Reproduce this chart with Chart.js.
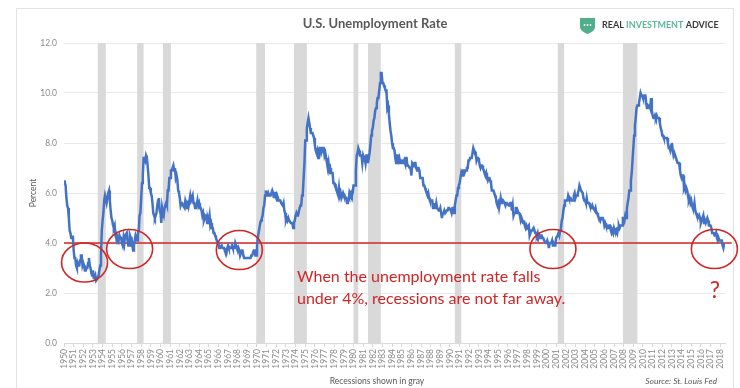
<!DOCTYPE html>
<html>
<head>
<meta charset="utf-8">
<script src="https://cdn.jsdelivr.net/npm/chart.js@4.4.1/dist/chart.umd.min.js"></script>
<style>
  html, body { margin: 0; padding: 0; background: #fff; }
  #wrap { width: 740px; height: 388px; position: relative; }
</style>
</head>
<body>
<div id="wrap"><canvas id="chart" width="740" height="388"></canvas></div>
<script>
// monthly unemployment rate, Jan 1950 onwards (percent)
const rate1950s = [
  6.5, 6.4, 6.3, 5.8, 5.5, 5.4, 5.0, 4.5, 4.4, 4.2, 4.2, 4.3,
  3.7, 3.4, 3.4, 3.1, 3.0, 3.2, 3.1, 3.1, 3.3, 3.5, 3.5, 3.1,
  3.2, 3.1, 2.9, 2.9, 3.0, 3.0, 3.2, 3.4, 3.1, 3.0, 2.8, 2.7,
  2.9, 2.6, 2.6, 2.7, 2.5, 2.5, 2.6, 2.7, 2.9, 3.1, 3.5, 4.5,
  4.9, 5.2, 5.7, 5.9, 5.9, 5.6, 5.8, 6.0, 6.1, 5.7, 5.3, 5.0,
  4.9, 4.7, 4.6, 4.7, 4.3, 4.2, 4.0, 4.2, 4.1, 4.3, 4.2, 4.2,
  4.0, 3.9, 4.2, 4.0, 4.3, 4.3, 4.4, 4.1, 3.9, 3.9, 4.3, 4.2,
  4.2, 3.9, 3.7, 3.9, 4.1, 4.3, 4.2, 4.1, 4.4, 4.5, 5.1, 5.2,
  5.8, 6.4, 6.7, 7.4, 7.4, 7.3, 7.5, 7.4, 7.1, 6.7, 6.2, 6.2,
  6.0, 5.9, 5.6, 5.2, 5.1, 5.0, 5.1, 5.2, 5.5, 5.7, 5.8, 5.3
];
const rate1960s = [
  5.2, 4.8, 5.4, 5.2, 5.1, 5.4, 5.5, 5.6, 5.5, 6.1, 6.1, 6.6,
  6.6, 6.9, 6.9, 7.0, 7.1, 6.9, 7.0, 6.6, 6.7, 6.5, 6.1, 6.0,
  5.8, 5.5, 5.6, 5.6, 5.5, 5.5, 5.4, 5.7, 5.6, 5.4, 5.7, 5.5,
  5.7, 5.9, 5.7, 5.7, 5.9, 5.6, 5.6, 5.4, 5.5, 5.5, 5.7, 5.5,
  5.6, 5.4, 5.4, 5.3, 5.1, 5.2, 4.9, 5.0, 5.1, 5.1, 4.8, 5.0,
  4.9, 5.1, 4.7, 4.8, 4.6, 4.6, 4.4, 4.4, 4.3, 4.2, 4.1, 4.0,
  4.0, 3.8, 3.8, 3.8, 3.9, 3.8, 3.8, 3.8, 3.7, 3.7, 3.6, 3.8,
  3.9, 3.8, 3.8, 3.8, 3.8, 3.9, 3.8, 3.8, 3.8, 4.0, 3.9, 3.8,
  3.7, 3.8, 3.7, 3.5, 3.5, 3.7, 3.7, 3.5, 3.4, 3.4, 3.4, 3.4,
  3.4, 3.4, 3.4, 3.4, 3.4, 3.5, 3.5, 3.5, 3.7, 3.7, 3.5, 3.5
];
const rate1970s = [
  3.9, 4.2, 4.4, 4.6, 4.8, 4.9, 5.0, 5.1, 5.4, 5.5, 5.9, 6.1,
  5.9, 5.9, 6.0, 5.9, 5.9, 5.9, 6.0, 6.1, 6.0, 5.8, 6.0, 6.0,
  5.8, 5.7, 5.8, 5.7, 5.7, 5.7, 5.6, 5.6, 5.5, 5.6, 5.3, 5.2,
  4.9, 5.0, 4.9, 5.0, 4.9, 4.9, 4.8, 4.8, 4.8, 4.6, 4.8, 4.9,
  5.1, 5.2, 5.1, 5.1, 5.1, 5.4, 5.5, 5.5, 5.9, 6.0, 6.6, 7.2,
  8.1, 8.1, 8.6, 8.8, 9.0, 8.8, 8.6, 8.4, 8.4, 8.4, 8.3, 8.2,
  7.9, 7.7, 7.6, 7.7, 7.4, 7.6, 7.8, 7.8, 7.6, 7.7, 7.8, 7.8,
  7.5, 7.6, 7.4, 7.2, 7.0, 7.2, 6.9, 7.0, 6.8, 6.8, 6.8, 6.4,
  6.4, 6.3, 6.3, 6.1, 6.0, 5.9, 6.2, 5.9, 6.0, 5.8, 5.9, 6.0,
  5.9, 5.9, 5.8, 5.8, 5.6, 5.7, 5.7, 6.0, 5.9, 6.0, 5.9, 6.0
];
const rate1980s = [
  6.3, 6.3, 6.3, 6.9, 7.5, 7.6, 7.8, 7.7, 7.5, 7.5, 7.5, 7.2,
  7.5, 7.4, 7.4, 7.2, 7.5, 7.5, 7.2, 7.4, 7.6, 7.9, 8.3, 8.5,
  8.6, 8.9, 9.0, 9.3, 9.4, 9.6, 9.8, 9.8, 10.1, 10.4, 10.8, 10.8,
  10.4, 10.4, 10.3, 10.2, 10.1, 10.1, 9.4, 9.5, 9.2, 8.8, 8.5, 8.3,
  8.0, 7.8, 7.8, 7.7, 7.4, 7.2, 7.5, 7.5, 7.3, 7.4, 7.2, 7.3,
  7.3, 7.2, 7.2, 7.3, 7.2, 7.4, 7.4, 7.1, 7.1, 7.1, 7.0, 7.0,
  6.7, 7.2, 7.2, 7.1, 7.2, 7.2, 7.0, 6.9, 7.0, 7.0, 6.9, 6.6,
  6.6, 6.6, 6.6, 6.3, 6.3, 6.2, 6.1, 6.0, 5.9, 6.0, 5.8, 5.7,
  5.7, 5.7, 5.7, 5.4, 5.6, 5.4, 5.4, 5.6, 5.4, 5.4, 5.3, 5.3,
  5.4, 5.2, 5.0, 5.2, 5.2, 5.3, 5.2, 5.2, 5.3, 5.3, 5.4, 5.4
];
const rate1990s = [
  5.4, 5.3, 5.2, 5.4, 5.4, 5.2, 5.5, 5.7, 5.9, 5.9, 6.2, 6.3,
  6.4, 6.6, 6.8, 6.7, 6.9, 6.9, 6.8, 6.9, 6.9, 7.0, 7.0, 7.3,
  7.3, 7.4, 7.4, 7.4, 7.6, 7.8, 7.7, 7.6, 7.6, 7.3, 7.4, 7.4,
  7.3, 7.1, 7.0, 7.1, 7.1, 7.0, 6.9, 6.8, 6.7, 6.8, 6.6, 6.5,
  6.6, 6.6, 6.5, 6.4, 6.1, 6.1, 6.1, 6.0, 5.9, 5.8, 5.6, 5.5,
  5.6, 5.4, 5.4, 5.8, 5.6, 5.6, 5.7, 5.7, 5.6, 5.5, 5.6, 5.6,
  5.6, 5.5, 5.5, 5.6, 5.6, 5.3, 5.5, 5.1, 5.2, 5.2, 5.4, 5.4,
  5.3, 5.2, 5.2, 5.1, 4.9, 5.0, 4.9, 4.8, 4.9, 4.7, 4.6, 4.7,
  4.6, 4.6, 4.7, 4.3, 4.4, 4.5, 4.5, 4.5, 4.6, 4.5, 4.4, 4.4,
  4.3, 4.4, 4.2, 4.3, 4.2, 4.3, 4.3, 4.2, 4.2, 4.1, 4.1, 4.0
];
const rate2000s = [
  4.0, 4.1, 4.0, 3.8, 4.0, 4.0, 4.0, 4.1, 3.9, 3.9, 3.9, 3.9,
  4.2, 4.2, 4.3, 4.4, 4.3, 4.5, 4.6, 4.9, 5.0, 5.3, 5.5, 5.7,
  5.7, 5.7, 5.7, 5.9, 5.8, 5.8, 5.8, 5.7, 5.7, 5.7, 5.9, 6.0,
  5.8, 5.9, 5.9, 6.0, 6.1, 6.3, 6.2, 6.1, 6.1, 6.0, 5.8, 5.7,
  5.7, 5.6, 5.8, 5.6, 5.6, 5.6, 5.5, 5.4, 5.4, 5.5, 5.4, 5.4,
  5.3, 5.4, 5.2, 5.2, 5.1, 5.0, 5.0, 4.9, 5.0, 5.0, 5.0, 4.9,
  4.7, 4.8, 4.7, 4.7, 4.6, 4.6, 4.7, 4.7, 4.5, 4.4, 4.5, 4.4,
  4.6, 4.5, 4.4, 4.5, 4.4, 4.6, 4.7, 4.6, 4.7, 4.7, 4.7, 5.0,
  5.0, 4.9, 5.1, 5.0, 5.4, 5.6, 5.8, 6.1, 6.1, 6.5, 6.8, 7.3,
  7.8, 8.3, 8.7, 9.0, 9.4, 9.5, 9.5, 9.6, 9.8, 10.0, 9.9, 9.9
];
const rate2010s = [
  9.8, 9.8, 9.9, 9.9, 9.6, 9.4, 9.4, 9.5, 9.5, 9.4, 9.8, 9.3,
  9.1, 9.0, 9.0, 9.1, 9.0, 9.1, 9.0, 9.0, 9.0, 8.8, 8.6, 8.5,
  8.3, 8.3, 8.2, 8.2, 8.2, 8.2, 8.2, 8.0, 7.8, 7.8, 7.7, 7.9,
  8.0, 7.7, 7.5, 7.6, 7.5, 7.5, 7.3, 7.2, 7.2, 7.2, 6.9, 6.7,
  6.6, 6.7, 6.7, 6.2, 6.3, 6.1, 6.2, 6.1, 5.9, 5.7, 5.8, 5.6,
  5.7, 5.5, 5.4, 5.4, 5.6, 5.3, 5.2, 5.1, 5.0, 5.0, 5.1, 5.0,
  4.8, 4.9, 5.0, 5.1, 4.8, 4.9, 4.8, 4.9, 5.0, 4.9, 4.7, 4.7,
  4.7, 4.6, 4.4, 4.4, 4.4, 4.3, 4.3, 4.4, 4.2, 4.1, 4.2, 4.1,
  4.1, 4.1, 4.1, 3.9, 3.8, 4.0
];

// NBER recessions (decimal years)
const recessionStart = [1953.5, 1957.58, 1960.25, 1969.92, 1973.83, 1980.0, 1981.5, 1990.5, 2001.17, 2007.92];
const recessionEnd   = [1954.33, 1958.25, 1961.08, 1970.83, 1975.17, 1980.5, 1982.83, 1991.17, 2001.83, 2009.42];

const threshold = 4.0;

// circled spots (year, percent)
const circleYear = [1952.13, 1956.8, 1968.17, 2000.67, 2017.4];
const circleRate = [3.22, 3.76, 3.72, 3.76, 3.76];

const allRates = [].concat(rate1950s, rate1960s, rate1970s, rate1980s, rate1990s, rate2000s, rate2010s);
const points = allRates.map((v, i) => ({ x: 1950 + i / 12, y: v }));

const recessionPlugin = {
    id: 'recessions',
    beforeDatasetsDraw(chart) {
        const { ctx, chartArea, scales: { x } } = chart;
        ctx.save();
        ctx.fillStyle = '#d9d9d9';
        recessionStart.forEach((s, i) => {
            const x0 = x.getPixelForValue(s);
            const x1 = x.getPixelForValue(recessionEnd[i]);
            ctx.fillRect(x0, chartArea.top, x1 - x0, chartArea.bottom - chartArea.top);
        });
        ctx.restore();
    }
};

const decorPlugin = {
    id: 'decor',
    beforeDraw(chart) {
        const ctx = chart.ctx;
        ctx.save();
        ctx.strokeStyle = '#e3e3e3';
        ctx.lineWidth = 1;
        ctx.strokeRect(16.5, 8.5, 717, 400);
        ctx.restore();
    },
    afterDraw(chart) {
        const { ctx, scales: { x, y } } = chart;
        ctx.save();

        // circles
        ctx.strokeStyle = '#d02626';
        ctx.lineWidth = 1.6;
        circleYear.forEach((yr, i) => {
            ctx.beginPath();
            ctx.ellipse(x.getPixelForValue(yr), y.getPixelForValue(circleRate[i]), 23, 19.5, 0, 0, Math.PI * 2);
            ctx.stroke();
        });

        // title
        ctx.fillStyle = '#595959';
        ctx.textAlign = 'center';
        ctx.textBaseline = 'middle';
        ctx.font = 'bold 13px Lato';
        ctx.fillText('U.S. Unemployment Rate', 375, 24);

        // axis titles
        ctx.font = '8.5px Lato';
        ctx.fillText('Recessions shown in gray', 377, 381);
        ctx.textAlign = 'right';
        ctx.font = 'italic 8.5px Lato';
        ctx.fillText('Source: St. Louis Fed', 717, 381);
        ctx.save();
        ctx.translate(33, 193);
        ctx.rotate(-Math.PI / 2);
        ctx.textAlign = 'center';
        ctx.font = '8.5px Lato';
        ctx.fillText('Percent', 0, 0);
        ctx.restore();

        // annotation
        ctx.fillStyle = '#d02626';
        ctx.textAlign = 'left';
        ctx.font = '16px Lato';
        ctx.fillText('When the unemployment rate falls', 297, 277);
        ctx.fillText('under 4%, recessions are not far away.', 297, 299);
        ctx.textAlign = 'center';
        ctx.font = '23px Lato';
        ctx.fillText('?', 715, 291);

        // logo
        ctx.fillStyle = '#4fae8c';
        ctx.beginPath();
        ctx.moveTo(580, 18);
        ctx.lineTo(595, 18);
        ctx.lineTo(595, 27);
        ctx.quadraticCurveTo(595, 31, 587.5, 34);
        ctx.quadraticCurveTo(580, 31, 580, 27);
        ctx.closePath();
        ctx.fill();
        ctx.fillStyle = '#ffffff';
        [584.5, 587.5, 590.5].forEach(px => {
            ctx.beginPath();
            ctx.arc(px, 25, 0.9, 0, Math.PI * 2);
            ctx.fill();
        });
        ctx.textAlign = 'left';
        ctx.font = 'bold 9px Lato';
        let lx = 602;
        [['REAL ', '#3a3a3a'], ['INVESTMENT ', '#5bb89a'], ['ADVICE', '#3a3a3a']].forEach(([t, c]) => {
            ctx.fillStyle = c;
            ctx.fillText(t, lx, 25.5);
            lx += ctx.measureText(t).width;
        });

        ctx.restore();
    }
};

new Chart(document.getElementById('chart').getContext('2d'), {
    type: 'line',
    data: {
        datasets: [
            {
                label: 'Unemployment rate',
                data: points,
                borderColor: '#4472c4',
                borderWidth: 2.5,
                pointRadius: 0,
                tension: 0
            },
            {
                label: '4% line',
                data: [{ x: 1950, y: threshold }, { x: 2019.2, y: threshold }],
                borderColor: '#d02626',
                borderWidth: 1.6,
                pointRadius: 0,
                clip: false
            }
        ]
    },
    options: {
        responsive: false,
        animation: false,
        events: [],
        layout: { padding: { top: 43, right: 15, left: 0, bottom: 0 } },
        plugins: {
            legend: { display: false },
            tooltip: { enabled: false }
        },
        scales: {
            x: {
                type: 'linear',
                min: 1950,
                max: 2018.5,
                afterFit: s => { s.height = 45; },
                ticks: {
                    stepSize: 1,
                    includeBounds: false,
                    autoSkip: false,
                    minRotation: 90,
                    maxRotation: 90,
                    padding: 2,
                    color: '#8c8c8c',
                    font: { family: 'Lato', size: 8.5 },
                    callback: v => Number.isInteger(v) ? String(v) : ''
                },
                grid: { drawOnChartArea: false, tickLength: 4, color: '#d9d9d9' },
                border: { color: '#d9d9d9' }
            },
            y: {
                min: 0,
                max: 12,
                afterFit: s => { s.width = 64; },
                ticks: {
                    stepSize: 2,
                    padding: 7,
                    color: '#8c8c8c',
                    font: { family: 'Lato', size: 8.5 },
                    callback: v => v.toFixed(1)
                },
                grid: { color: '#e8e8e8', drawTicks: false },
                border: { display: false }
            }
        }
    },
    plugins: [recessionPlugin, decorPlugin]
});
</script>
</body>
</html>
